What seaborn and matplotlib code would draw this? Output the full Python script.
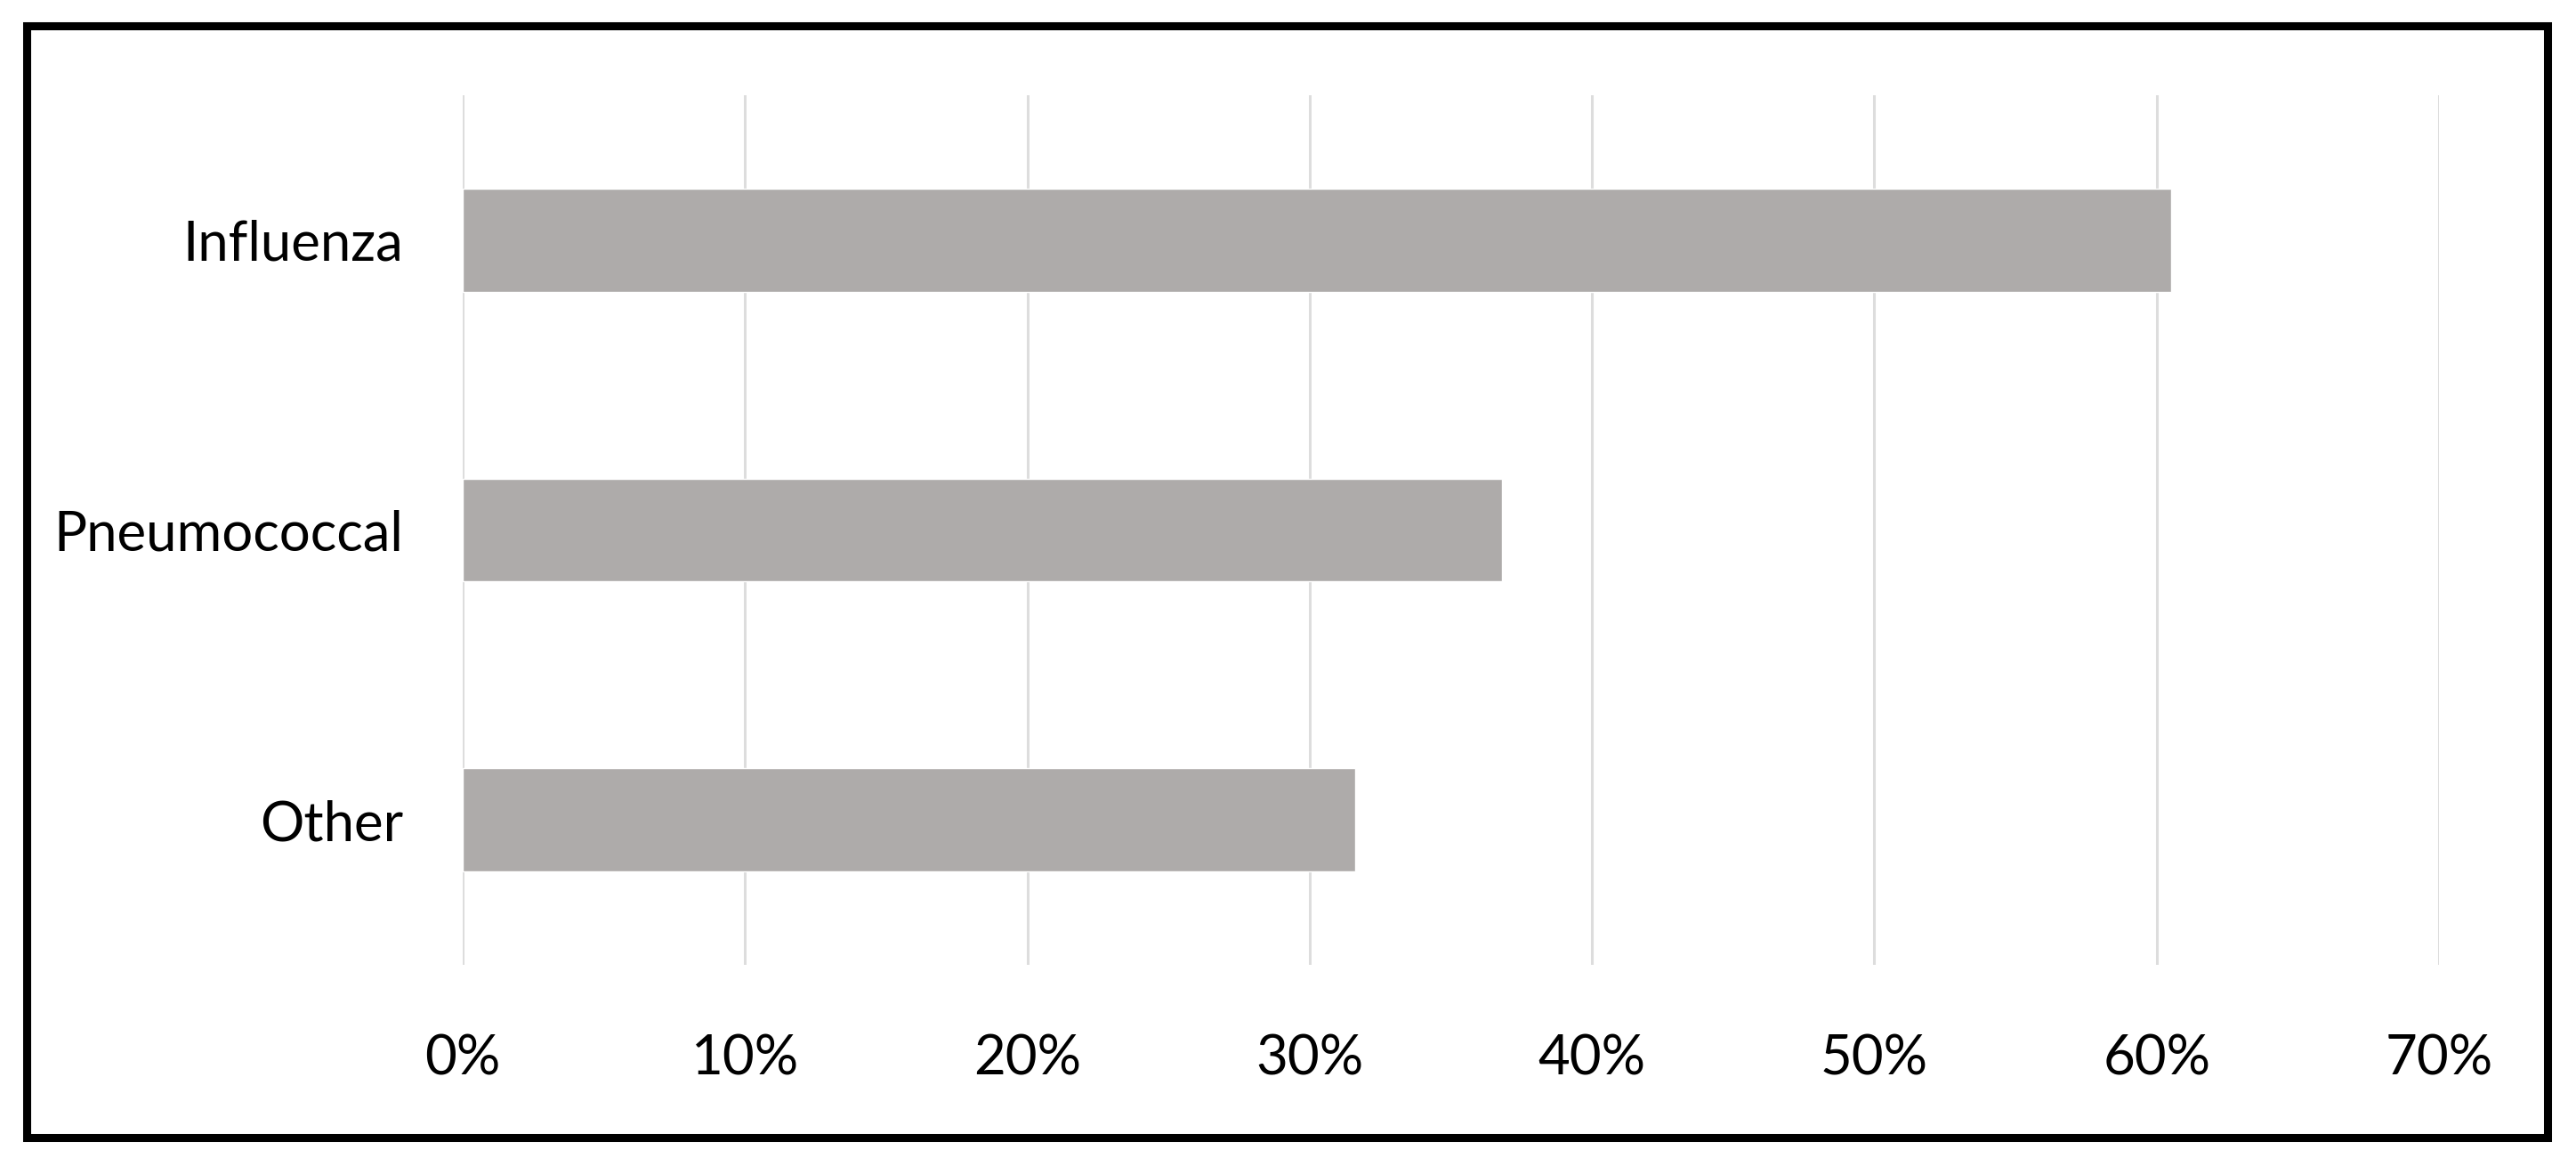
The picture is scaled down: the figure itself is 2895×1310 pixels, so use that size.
#!/usr/bin/env python3
"""
Vaccine type share - horizontal bar chart
"""

import numpy as np
import pandas as pd
import matplotlib
matplotlib.use("Agg")
import matplotlib.pyplot as plt
from matplotlib.patches import Rectangle
from matplotlib.ticker import PercentFormatter
import seaborn as sns

# Data
categories = ["Influenza", "Pneumococcal", "Other"]
shares = [0.605, 0.368, 0.316]
x_ticks = [0.0, 0.1, 0.2, 0.3, 0.4, 0.5, 0.6, 0.7]

df = pd.DataFrame({"category": categories, "share": shares})

sns.set_style("white")
plt.rcParams['font.family'] = ['Lato', 'DejaVu Sans']

W, H, DPI = 2895, 1310, 100
fig = plt.figure(figsize=(W / DPI, H / DPI), dpi=DPI)
fig.patch.set_facecolor("white")

# axes placed in pixel terms of the reference
left, right, top, bottom = 520, 2741, 107, 1084
ax = fig.add_axes([left / W, 1 - bottom / H, (right - left) / W, (bottom - top) / H])

sns.barplot(data=df, x="share", y="category", color="#AEABAA", width=0.355,
            saturation=1, ax=ax, zorder=3)

ax.set_xlim(0, 0.7)
ax.set_ylim(2.5, -0.5)
ax.set_xticks(x_ticks)
ax.xaxis.set_major_formatter(PercentFormatter(1.0, decimals=0))
ax.grid(True, axis='x', color="#DDDDDD", linewidth=2.2, zorder=0)
ax.grid(False, axis='y')
ax.set_xlabel("")
ax.set_ylabel("")
for s in ax.spines.values():
    s.set_visible(False)
ax.tick_params(axis='both', length=0, labelsize=44.5, colors="black")
ax.tick_params(axis='x', pad=56)
ax.tick_params(axis='y', pad=48)

# outer black frame
fig.patches.append(Rectangle((30 / W, 1 - 1278 / H), (2863 - 30) / W, (1278 - 29) / H,
                             transform=fig.transFigure, fill=False,
                             edgecolor="black", linewidth=6.5))

plt.savefig("out.png", dpi=DPI, facecolor="white")
